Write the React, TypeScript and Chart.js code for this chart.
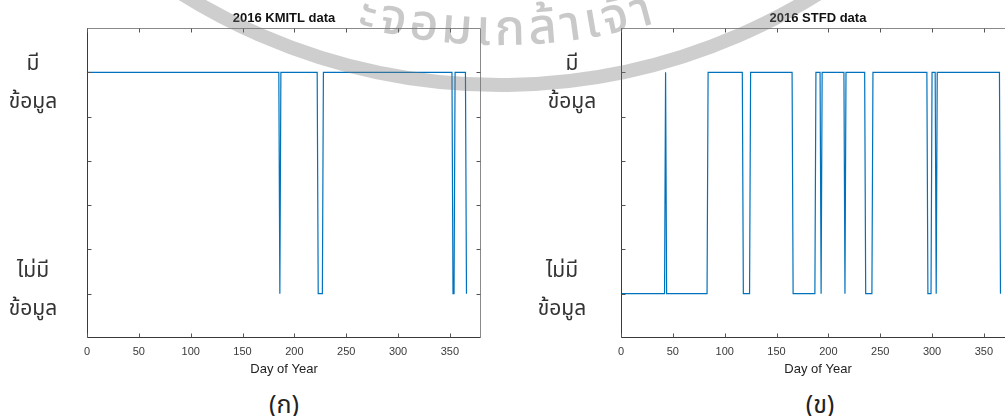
import React, { useEffect, useRef } from "react";
import { Chart, registerables } from "chart.js";

Chart.register(...registerables);

// ---- data ----
const kmitlDays = [0, 185, 186, 187, 222, 223, 227, 228, 352, 353, 354, 355, 365, 366];
const kmitlValues = [1, 1, 0, 1, 1, 0, 0, 1, 1, 0, 0, 1, 1, 0];

const stfdDays = [0, 42, 43, 44, 83, 84, 117, 118, 124, 125, 165, 166, 187, 188, 192, 193, 194, 215, 216, 217, 235, 236, 242, 243, 295, 296, 299, 300, 303, 304, 305, 365, 366];
const stfdValues = [0, 0, 1, 0, 0, 1, 1, 0, 0, 1, 1, 0, 0, 1, 1, 0, 1, 1, 0, 1, 1, 0, 0, 1, 1, 0, 0, 1, 1, 0, 1, 1, 0];

const xTickValues = [0, 50, 100, 150, 200, 250, 300, 350];
const yTickValues = [0, 0.2, 0.4, 0.6, 0.8, 1];
const xRange = [0, 380];
const yRange = [-0.2, 1.2];

const titles = ["2016 KMITL data", "2016 STFD data"];
const xAxisTitle = "Day of Year";
const availLabel = ["มี", "ข้อมูล"];
const missingLabel = ["ไม่มี", "ข้อมูล"];
const captions = ["(ก)", "(ข)"];
const watermarkText = "ะจอมเกล้าเจ้า";

const FONT = "'Liberation Sans', Arial, Helvetica, sans-serif";
const THAI = "'Noto Sans Thai', 'Loma', 'Garuda', 'Tlwg Typo', 'Norasi', 'Noto Sans', sans-serif";

const boxPlugin = {
  id: "matlabBox",
  afterDraw(chart: any) {
    const { ctx, chartArea, scales } = chart;
    const { left, right, top, bottom } = chartArea;
    const xs = scales.x;
    const ys = scales.y;
    const L = Math.round(left) + 0.5;
    const R = Math.round(right) - 0.5;
    const T = Math.round(top) + 0.5;
    const B = Math.round(bottom) - 0.5;
    ctx.save();
    ctx.lineWidth = 1;
    ctx.strokeStyle = "#8a8a8a";
    ctx.beginPath();
    ctx.moveTo(L, T);
    ctx.lineTo(R, T);
    ctx.lineTo(R, B);
    ctx.stroke();
    ctx.strokeStyle = "#3a3a3a";
    ctx.beginPath();
    ctx.moveTo(L, T);
    ctx.lineTo(L, B);
    ctx.lineTo(R, B);
    ctx.stroke();
    const tl = 4;
    ctx.strokeStyle = "#555";
    ctx.beginPath();
    for (const v of xTickValues) {
      const px = Math.round(xs.getPixelForValue(v)) + 0.5;
      ctx.moveTo(px, B);
      ctx.lineTo(px, B - tl);
      ctx.moveTo(px, T);
      ctx.lineTo(px, T + tl);
    }
    for (const v of yTickValues) {
      const py = Math.round(ys.getPixelForValue(v)) + 0.5;
      ctx.moveTo(L, py);
      ctx.lineTo(L + tl, py);
      ctx.moveTo(R, py);
      ctx.lineTo(R - tl, py);
    }
    ctx.stroke();
    ctx.restore();
  },
};

function makeConfig(days: number[], values: number[], title: string, padLeft: number, padRight: number): any {
  return {
    type: "line",
    data: {
      datasets: [
        {
          data: days.map((d, i) => ({ x: d, y: values[i] })),
          borderColor: "#0072BD",
          borderWidth: 1.2,
          pointRadius: 0,
          tension: 0,
          fill: false,
        },
      ],
    },
    options: {
      animation: false,
      responsive: false,
      maintainAspectRatio: false,
      layout: { padding: { left: padLeft, right: padRight, top: 0, bottom: 0 } },
      plugins: {
        legend: { display: false },
        tooltip: { enabled: false },
        title: {
          display: true,
          text: title,
          fullSize: false,
          color: "#111",
          font: { family: FONT, size: 13, weight: "bold" },
          padding: { top: 10.2, bottom: 2.2 },
        },
      },
      scales: {
        x: {
          type: "linear",
          min: xRange[0],
          max: xRange[1],
          grid: { display: false, drawTicks: false },
          border: { display: false },
          ticks: {
            padding: 7,
            color: "#3a3a3a",
            font: { family: FONT, size: 11 },
            maxRotation: 0,
            autoSkip: false,
          },
          title: {
            display: true,
            text: xAxisTitle,
            color: "#222",
            font: { family: FONT, size: 13 },
            padding: { top: 0, bottom: 1.2 },
          },
          afterBuildTicks: (axis: any) => {
            axis.ticks = xTickValues.map((v) => ({ value: v }));
          },
          afterFit: (axis: any) => {
            axis.height = 40;
          },
        },
        y: {
          type: "linear",
          min: yRange[0],
          max: yRange[1],
          display: false,
        },
      },
    },
    plugins: [boxPlugin],
  };
}

function LineChart({ days, values, title, left, width, padLeft, padRight }: any) {
  const ref = useRef<HTMLCanvasElement | null>(null);
  useEffect(() => {
    if (!ref.current) return;
    const chart = new Chart(ref.current, makeConfig(days, values, title, padLeft, padRight));
    return () => chart.destroy();
  }, []);
  return (
    <canvas
      ref={ref}
      width={width}
      height={378}
      style={{ position: "absolute", left, top: 0, width, height: 378 }}
    />
  );
}

function Label({ lines, cx, top }: { lines: string[]; cx: number; top: number }) {
  return (
    <div
      style={{
        position: "absolute",
        left: cx - 50,
        width: 100,
        top,
        textAlign: "center",
        fontFamily: THAI,
        fontSize: 21,
        lineHeight: "38px",
        color: "#333",
      }}
    >
      {lines.map((l, i) => (
        <div key={i}>{l}</div>
      ))}
    </div>
  );
}

function Watermark() {
  const cx = 500;
  const cy = -515;
  const Rband = 600;
  const Rtext = 560;
  const a = (45 * Math.PI) / 180;
  const arc = (r: number) =>
    `M ${cx - r * Math.sin(a)} ${cy + r * Math.cos(a)} A ${r} ${r} 0 0 0 ${cx + r * Math.sin(a)} ${cy + r * Math.cos(a)}`;
  const len = Rtext * 2 * a;
  return (
    <svg
      width={1005}
      height={416}
      style={{ position: "absolute", left: 0, top: 0, pointerEvents: "none" }}
    >
      <defs>
        <path id="wmText" d={arc(Rtext)} />
      </defs>
      <path d={arc(Rband)} stroke="rgba(120,120,120,0.36)" strokeWidth={14} fill="none" />
      <text
        fill="rgba(120,120,120,0.4)"
        style={{ fontFamily: THAI, fontSize: 50, fontWeight: 500, letterSpacing: 4 }}
      >
        <textPath href="#wmText" startOffset={len / 2 + 8} textAnchor="middle">
          {watermarkText}
        </textPath>
      </text>
    </svg>
  );
}

export default function App() {
  return (
    <div
      style={{
        position: "absolute",
        left: 0,
        top: 0,
        width: 1005,
        height: 416,
        overflow: "hidden",
        background: "#fff",
      }}
    >
      <LineChart days={kmitlDays} values={kmitlValues} title={titles[0]} left={0} width={500} padLeft={87} padRight={19} />
      <LineChart days={stfdDays} values={stfdValues} title={titles[1]} left={500} width={534} padLeft={121} padRight={19} />
      <Label lines={availLabel} cx={33} top={45} />
      <Label lines={missingLabel} cx={33} top={252} />
      <Label lines={availLabel} cx={572} top={45} />
      <Label lines={missingLabel} cx={562} top={252} />
      {captions.map((c, i) => (
        <div
          key={c}
          style={{
            position: "absolute",
            left: (i === 0 ? 284 : 820) - 40,
            width: 80,
            top: 391,
            textAlign: "center",
            fontFamily: THAI,
            fontSize: 25,
            lineHeight: "28px",
            color: "#222",
          }}
        >
          {c}
        </div>
      ))}
      <Watermark />
    </div>
  );
}
